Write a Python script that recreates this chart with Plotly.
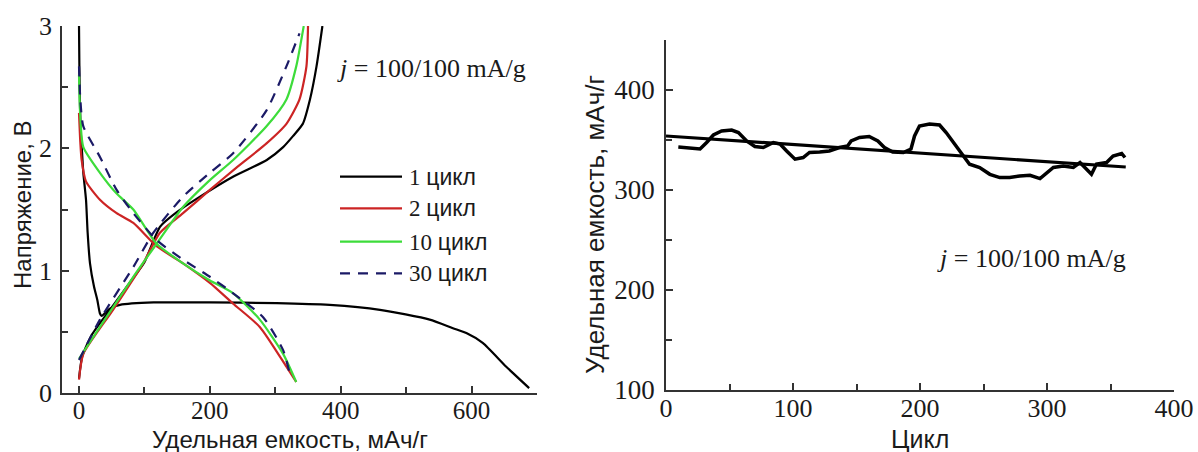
import plotly.graph_objects as go

# ---------------- charge/discharge curves (left panel) ----------------
# capacity, mAh/g  /  voltage, V
c1_dis_cap = [0, 0.5, 1.5, 3, 4.5, 6.6, 10.7, 13.2, 16.8, 22.9, 28, 32, 34.6, 47, 62.6, 114, 200, 302,
              383, 460, 536, 571.5, 592, 617, 653, 688]
c1_dis_v = [3.0, 2.7, 2.35, 2.1, 1.98, 1.80, 1.58, 1.31, 1.06, 0.87, 0.76, 0.65, 0.63, 0.69, 0.72, 0.74,
            0.74, 0.735, 0.72, 0.68, 0.60, 0.53, 0.49, 0.41, 0.215, 0.04]
c1_ch_cap = [0, 5, 20, 50, 80, 100, 124, 150, 185, 236, 287, 312, 327, 342, 353, 363, 372]
c1_ch_v = [0.12, 0.30, 0.48, 0.70, 0.92, 1.07, 1.36, 1.48, 1.605, 1.77, 1.905, 2.01, 2.10, 2.20, 2.40, 2.67, 3.0]

c2_dis_cap = [0, 2, 4, 10.6, 32, 57.5, 83, 118.6, 159, 200, 235.6, 276.3, 317, 332]
c2_dis_v = [2.29, 2.05, 1.905, 1.73, 1.58, 1.47, 1.39, 1.20, 1.06, 0.90, 0.73, 0.54, 0.215, 0.09]
c2_ch_cap = [0, 6.6, 52, 98, 123.7, 159, 200, 235.6, 286.6, 317, 337, 347.6, 350]
c2_ch_v = [0.11, 0.32, 0.68, 1.06, 1.31, 1.47, 1.66, 1.82, 2.04, 2.20, 2.40, 2.67, 3.0]

c10_dis_cap = [0, 2, 6.6, 32, 57.5, 83, 118.6, 159, 200, 235.6, 276.3, 312, 332]
c10_dis_v = [2.6, 2.25, 2.01, 1.80, 1.63, 1.50, 1.22, 1.06, 0.92, 0.815, 0.60, 0.32, 0.09]
c10_ch_cap = [0, 32, 83, 118.6, 159, 200, 235.6, 286.6, 317, 332, 343.5]
c10_ch_v = [0.28, 0.54, 0.95, 1.22, 1.52, 1.74, 1.905, 2.18, 2.40, 2.67, 3.0]

c30_dis_cap = [0, 2, 6.6, 32, 57.5, 83, 118.6, 159, 200, 235.6, 281.4, 312, 322]
c30_dis_v = [2.67, 2.4, 2.18, 1.93, 1.66, 1.47, 1.25, 1.09, 0.95, 0.815, 0.62, 0.35, 0.16]
c30_ch_cap = [0, 32, 83, 113.7, 159, 200, 235.6, 286.6, 317, 337]
c30_ch_v = [0.27, 0.60, 1.03, 1.31, 1.605, 1.80, 1.96, 2.31, 2.67, 2.94]

cycle_names = ["1 цикл", "2 цикл", "10 цикл", "30 цикл"]

# ---------------- cycling stability (right panel) ----------------
cycle_no = [9.7, 18.9, 26.8, 32, 37.3, 43.8, 51.7, 57, 63.5, 70, 76.6, 84.5, 89.8, 95, 101.6, 108, 113,
            121, 128.6, 136.5, 143, 145.8, 152.4, 160, 166.8, 172, 178.5, 186.9, 192.9, 195.7, 199.6,
            207.5, 215.4, 220.6, 227, 233.6, 239, 247, 255, 262.8, 270.6, 278.5, 286.6, 294.5, 299.8,
            305, 312.8, 320.7, 326, 331, 335, 339, 346.9, 352, 358.8, 361.4]
capacity = [343, 341.5, 341, 347.5, 355, 359, 360, 357.5, 349, 343.5, 342.5, 347.5, 346, 339, 330.8,
            332.5, 337.5, 338, 339, 342.5, 344, 349, 352.5, 353.5, 349, 342.5, 338, 337.5, 341, 354,
            364, 366, 365, 357.5, 346, 334, 325.8, 322.5, 315.7, 312.4, 312.4, 314, 314.7, 311.4, 317.5,
            322.5, 324, 322.5, 327.5, 320.8, 315.7, 326, 327.5, 334, 336.5, 332.5]
fit_cycle = [0, 362]
fit_capacity = [354, 323]

annot_text = "<i>j</i> = 100/100 mA/g"
title_cap = "Удельная емкость, мАч/г"
title_volt = "Напряжение, В"
title_cycle = "Цикл"

# ---------------- styling ----------------
W, H = 1198, 452
SERIF = "Liberation Serif"
SANS = "Liberation Sans"
INK = "#1a1a1a"
colors = ["#000000", "#cc2424", "#3ddc3a", "#1b1a66"]
dashes = ["solid", "solid", "solid", "10px,8px"]


def px_x(p):
    return p / W


def px_y(p):
    return 1 - p / H


fig = go.Figure()

curves = [
    (c1_dis_cap, c1_dis_v, c1_ch_cap, c1_ch_v),
    (c2_dis_cap, c2_dis_v, c2_ch_cap, c2_ch_v),
    (c10_dis_cap, c10_dis_v, c10_ch_cap, c10_ch_v),
    (c30_dis_cap, c30_dis_v, c30_ch_cap, c30_ch_v),
]
for (dx, dy, cx, cy), col, dsh, name in zip(curves, colors, dashes, cycle_names):
    for xs, ys in ((dx, dy), (cx, cy)):
        fig.add_trace(go.Scatter(
            x=xs, y=ys, mode="lines", name=name, showlegend=False,
            line=dict(color=col, width=2.2, dash=dsh, shape="spline", smoothing=0.6),
            xaxis="x", yaxis="y"))

fig.add_trace(go.Scatter(
    x=cycle_no, y=capacity, mode="lines", showlegend=False,
    line=dict(color="#000000", width=3.5), xaxis="x2", yaxis="y2"))
fig.add_trace(go.Scatter(
    x=fit_cycle, y=fit_capacity, mode="lines", showlegend=False,
    line=dict(color="#000000", width=3.2), xaxis="x2", yaxis="y2"))

axis_common = dict(
    automargin=False,
    showline=True, linecolor="#333333", linewidth=1.5, showgrid=False, zeroline=False,
    ticks="inside", ticklen=7, tickwidth=1.5, tickcolor="#333333",
)
minor_common = dict(ticks="inside", ticklen=6, tickwidth=1.5, tickcolor="#333333", tick0=0)
left_tick_font = dict(family=SERIF, size=26, color=INK)
right_tick_font = dict(family=SERIF, size=27, color=INK)
left_xtick_font = dict(family=SERIF, size=25, color=INK)
right_xtick_font = dict(family=SERIF, size=26, color=INK)

fig.update_layout(
    width=W, height=H,
    margin=dict(l=0, r=0, t=0, b=0),
    paper_bgcolor="white", plot_bgcolor="white",
    xaxis=dict(
        domain=[px_x(62), px_x(537)], range=[-26, 700], anchor="y",
        tickvals=[0, 200, 400, 600], tickfont=left_xtick_font, ticklabelstandoff=-6,
        minor=dict(dtick=100, **minor_common), **axis_common),
    yaxis=dict(
        domain=[px_y(393), px_y(26)], range=[0, 3], anchor="x",
        tickvals=[0, 1, 2, 3], ticklabelstandoff=3, tickfont=left_tick_font,
        minor=dict(dtick=0.5, **minor_common), **axis_common),
    xaxis2=dict(
        domain=[px_x(666), px_x(1174)], range=[0, 400], anchor="y2",
        tickvals=[0, 100, 200, 300, 400], tickfont=right_xtick_font, ticklabelstandoff=-6,
        minor=dict(dtick=50, **minor_common), **axis_common),
    yaxis2=dict(
        domain=[px_y(390), px_y(40)], range=[100, 450], anchor="x2",
        tickvals=[100, 200, 300, 400], ticklabelstandoff=4, tickfont=right_tick_font,
        minor=dict(dtick=50, **minor_common), **axis_common),
)

# axis titles, placed in page pixels
axis_titles = [
    (title_cap, 290, 439, 0, 24),
    (title_volt, 22, 205, -90, 24),
    (title_cycle, 920, 439, 0, 25),
    (title_cap, 595, 225, -90, 26),
]
for txt, xc, yc, ang, size in axis_titles:
    fig.add_annotation(
        text=txt, xref="paper", yref="paper", x=px_x(xc), y=px_y(yc),
        xanchor="center", yanchor="middle", textangle=ang, showarrow=False,
        borderpad=0, font=dict(family=SANS, size=size, color=INK))

# current-density labels
for x0, yc in ((335, 68), (935, 258)):
    fig.add_annotation(
        text=annot_text, xref="paper", yref="paper", x=px_x(x0), y=px_y(yc),
        xanchor="left", yanchor="middle", showarrow=False,
        font=dict(family=SERIF, size=26, color=INK))

# legend keys for the voltage profiles
legend_rows = [176.7, 208.3, 241.7, 273.3]
for name, col, dsh, yr in zip(cycle_names, colors, dashes, legend_rows):
    num, word = name.split(" ")
    fig.add_shape(
        type="line", xref="paper", yref="paper",
        x0=px_x(340), x1=px_x(402), y0=px_y(yr), y1=px_y(yr),
        line=dict(color=col, width=2.2, dash=dsh))
    fig.add_annotation(
        text=f"{num} <span style='font-family:{SANS}'>{word}</span>",
        xref="paper", yref="paper", x=px_x(407), y=px_y(yr),
        xanchor="left", yanchor="middle", showarrow=False,
        font=dict(family=SERIF, size=23, color=INK))

fig.write_html("out.html")
